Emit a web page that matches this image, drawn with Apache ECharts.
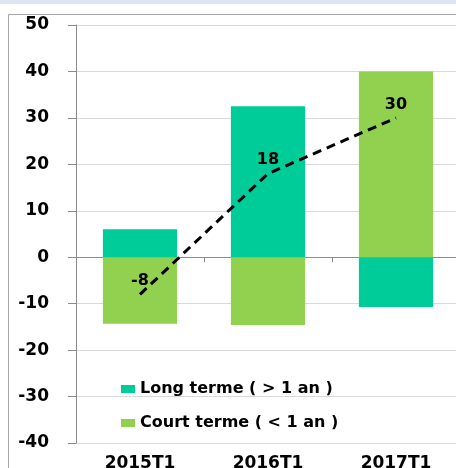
<!DOCTYPE html>
<html><head><meta charset="utf-8">
<script src="https://cdn.jsdelivr.net/npm/echarts@6/dist/echarts.min.js"></script>
<style>html,body{margin:0;padding:0;background:#fff;}#c{width:456px;height:468px;}</style>
</head><body><div id="c"></div>
<script>
var categories = ['2015T1', '2016T1', '2017T1'];
var longTerme = [6, 32.5, -10.7];
var courtTerme = [-14.3, -14.6, 40];
var total = [-8, 18, 30];
var yTicks = {min: -40, max: 50, interval: 10};

var chart = echarts.init(document.getElementById('c'), null, {renderer: 'canvas'});
var font = '"DejaVu Sans", Verdana, sans-serif';
chart.setOption({
  animation: false,
  backgroundColor: '#fff',
  graphic: [
    {type: 'rect', shape: {x: 0, y: 0, width: 456, height: 4}, style: {fill: '#dce6f2'}},
    {type: 'rect', shape: {x: 8.5, y: 14.5, width: 460, height: 470}, style: {fill: 'none', stroke: '#a6a6a6', lineWidth: 1}}
  ],
  grid: {left: 76, width: 384, top: 25, height: 418, outerBoundsMode: 'none', containLabel: false},
  legend: {
    data: ['Long terme ( > 1 an )', 'Court terme ( < 1 an )'],
    orient: 'vertical', left: 116, top: 376, itemWidth: 14, itemHeight: 8, itemGap: 18,
    icon: 'rect', itemStyle: {borderWidth: 0},
    textStyle: {fontFamily: font, fontWeight: 'bold', fontSize: 16, color: '#000', lineHeight: 16}
  },
  xAxis: [
    {type: 'category', data: categories, position: 'bottom', axisLine: {show: false, onZero: false},
     axisTick: {show: false},
     axisLabel: {fontFamily: font, fontWeight: 'bold', fontSize: 17, color: '#000', margin: 12}},
    {type: 'category', data: categories, position: 'bottom', axisLine: {show: true, onZero: true, lineStyle: {color: '#8c8c8c', width: 1}},
     axisTick: {show: true, length: 5, inside: false, lineStyle: {color: '#8c8c8c'}},
     axisLabel: {show: false}}
  ],
  yAxis: {
    type: 'value', min: yTicks.min, max: yTicks.max, interval: yTicks.interval,
    axisLine: {show: true, lineStyle: {color: '#8c8c8c', width: 1}},
    axisTick: {show: true, length: 8, lineStyle: {color: '#8c8c8c'}},
    splitLine: {show: true, lineStyle: {color: '#d9d9d9', width: 1}},
    axisLabel: {fontFamily: font, fontWeight: 'bold', fontSize: 17, color: '#000', margin: 27}
  },
  series: [
    {name: 'Long terme ( > 1 an )', type: 'bar', stack: 's', data: longTerme, barWidth: '58%',
     itemStyle: {color: '#00cc99'}},
    {name: 'Court terme ( < 1 an )', type: 'bar', stack: 's', data: courtTerme, barWidth: '58%',
     itemStyle: {color: '#92d050'}},
    {name: 'Total', type: 'line', data: total, symbol: 'circle', symbolSize: 1, showSymbol: true, z: 5,
     itemStyle: {color: '#000', opacity: 0},
     lineStyle: {color: '#000', width: 3, type: [9, 6], opacity: 1},
     label: {show: true, position: 'top', distance: 5, fontFamily: font, fontWeight: 'bold', fontSize: 16, color: '#000', opacity: 1},
     labelLayout: {hideOverlap: false}}
  ]
});
</script></body></html>
